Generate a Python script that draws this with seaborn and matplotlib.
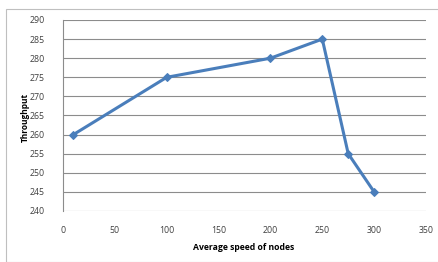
import matplotlib
matplotlib.use("Agg")
import matplotlib.pyplot as plt
import seaborn as sns
import pandas as pd
from matplotlib.patches import Rectangle

speed = [10, 100, 200, 250, 275, 300]
throughput = [260, 275, 280, 285, 255, 245]
x_ticks = [0, 50, 100, 150, 200, 250, 300, 350]
y_ticks = [240, 245, 250, 255, 260, 265, 270, 275, 280, 285, 290]

sns.set_theme(style="white")
plt.rcParams['font.family'] = ['Open Sans', 'DejaVu Sans']

df = pd.DataFrame({"speed": speed, "throughput": throughput})

fig = plt.figure(figsize=(4.39, 2.62), dpi=100)
W, H = 439, 262
fig.patches.append(Rectangle((6 / W, 0), (W - 6) / W, (H - 9) / H, transform=fig.transFigure,
                             fill=False, edgecolor="#BFBFBF", linewidth=0.8))
ax = fig.add_axes([63 / W, 1 - 211 / H, (426 - 63) / W, (211 - 20) / H])

sns.lineplot(data=df, x="speed", y="throughput", ax=ax, color="#4A7EBB", linewidth=2.2,
             marker="D", markersize=4.5, markeredgecolor="#4A7EBB")

ax.set_xlim(0, 350)
ax.set_ylim(240, 290)
ax.set_xticks(x_ticks)
ax.set_yticks(y_ticks)
ax.set_xticklabels([str(v) for v in x_ticks])
ax.set_yticklabels([str(v) for v in y_ticks])
ax.tick_params(axis="x", labelsize=6.3, colors="#404040", length=0, pad=11)
ax.tick_params(axis="y", labelsize=6.3, colors="#404040", length=0, pad=13)
ax.yaxis.grid(True, color="#8C8C8C", linewidth=0.8)
ax.xaxis.grid(False)
for s in ["top", "right", "bottom"]:
    ax.spines[s].set_visible(False)
ax.spines["left"].set_color("#8C8C8C")
ax.spines["left"].set_linewidth(0.8)
ax.set_xlabel("")
ax.set_ylabel("")
fig.text(244 / W, 1 - 248 / H, "Average speed of nodes", fontsize=6.2, fontweight="bold",
         color="black", ha="center", va="center")
fig.text(25 / W, 1 - 117 / H, "Throughput", fontsize=6.0, fontweight="bold",
         color="black", ha="center", va="center", rotation=90)

fig.savefig("out.png", dpi=100)
